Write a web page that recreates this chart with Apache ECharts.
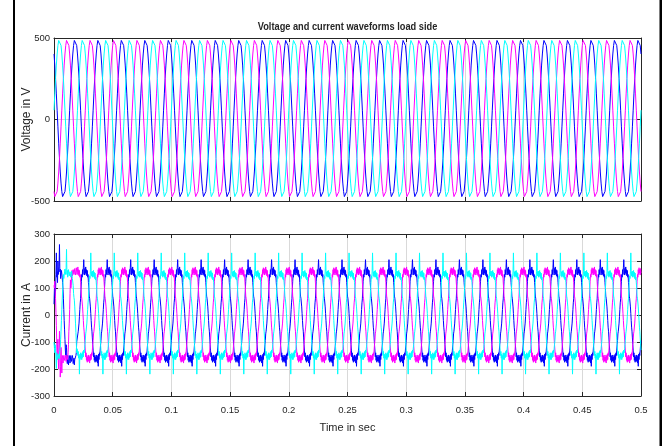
<!DOCTYPE html>
<html>
<head>
<meta charset="utf-8">
<title>Voltage and current waveforms load side</title>
<script src="https://cdn.jsdelivr.net/npm/echarts@6/dist/echarts.min.js"></script>
<style>
  html, body { margin: 0; padding: 0; background: #fff; }
  #chart { width: 667px; height: 446px; }
</style>
</head>
<body>
<div id="chart"></div>
<script>
// Supply period and number of cycles shown (50 Hz over 0.5 s)
const PERIOD = 0.02;
const CYCLES = 25;

// Axis ticks
const timeTicks = [0, 0.05, 0.1, 0.15, 0.2, 0.25, 0.3, 0.35, 0.4, 0.45, 0.5];
const voltTicks = [-500, 0, 500];
const currTicks = [-300, -200, -100, 0, 100, 200, 300];

// One period of each phase voltage (V), 30 samples per period
const voltBlue = [402, 334, 251, 157, 57, -45, -145, -239, -322, -390, -442, -473, -484, -473, -442,
                  -390, -322, -239, -145, -45, 57, 157, 251, 334, 402, 454, 485, 496, 485, 454];
const voltMagenta = [-442, -473, -484, -473, -442, -390, -322, -239, -145, -45, 57, 157, 251, 334, 402,
                     454, 485, 496, 485, 454, 402, 334, 251, 157, 57, -45, -145, -239, -322, -390];
const voltCyan = [57, 157, 251, 334, 402, 454, 485, 496, 485, 454, 402, 334, 251, 157, 57,
                  -45, -145, -239, -322, -390, -442, -473, -484, -473, -442, -390, -322, -239, -145, -45];

// Load currents (A), 60 samples per period: first period after switch-on, then steady state
const currBlueStart = [40, 95, 120, 70, 90, 150, 230, 140, 160, 120, 200, 150, 150, 180, 261,
                       160, 170, 135, 140, 165, 160, 140, 120, 95, 60, 20, -20, -55, -90, -130,
                       -150, -110, -120, -160, -180, -150, -165, -185, -190, -150, -160, -178, -175, -150, -155,
                       -172, -170, -150, -160, -180, -175, -160, -185, -165, -160, -170, -150, -140, -100, -98];
const currBlue = [-95, -70, -60, -55, -30, -5, 20, 45, 60, 95, 125, 150, 140, 168, 150,
                  175, 205, 170, 148, 172, 155, 178, 150, 168, 145, 165, 140, 150, 120, 100,
                  70, 62, 55, 30, 5, -20, -45, -60, -85, -110, -130, -155, -140, -168, -150,
                  -175, -155, -170, -148, -172, -155, -178, -150, -190, -145, -165, -140, -150, -130, -110];

const currMagentaStart = [110, 100, 125, 90, 60, 10, -40, -100, -150, -110, -90, -170, -200, -120, -60,
                          -150, -230, -190, -120, -170, -215, -160, -150, -178, -175, -150, -150, -168, -170, -148,
                          -155, -172, -175, -150, -150, -165, -140, -110, -60, -30, 20, 80, 130, 100, 110,
                          150, 165, 145, 140, 168, 175, 150, 155, 172, 170, 148, 150, 175, 172, 150];
const currMagenta = [155, 178, 150, 168, 145, 165, 140, 150, 120, 100, 70, 62, 55, 30, 5,
                     -20, -45, -60, -85, -110, -130, -155, -140, -168, -150, -175, -155, -170, -148, -172,
                     -155, -178, -150, -168, -145, -165, -140, -150, -130, -110, -95, -70, -60, -55, -30,
                     -5, 20, 45, 60, 95, 125, 150, 140, 168, 150, 175, 155, 170, 148, 172];

const currCyanStart = [-100, -120, -140, -110, -125, -160, -198, -140, -150, -165, -170, -145, -140, -162, -160,
                       -130, -120, -90, -60, -20, 20, 55, 90, 120, 150, 135, 130, 160, 170, 150,
                       160, 175, 243, 150, 165, 140, 150, 168, 170, 145, 140, 160, 165, 140, 145,
                       162, 160, 135, 140, 110, 80, 65, 55, 30, 0, -30, -65, -100, -140, -125];
const currCyan = [-130, -150, -135, -160, -145, -219, -150, -160, -140, -165, -145, -165, -140, -158, -135,
                  -155, -130, -140, -125, -110, -95, -70, -60, -55, -30, -5, 20, 45, 60, 95,
                  120, 145, 135, 160, 230, 165, 145, 160, 140, 163, 145, 165, 140, 158, 135,
                  155, 130, 140, 120, 100, 70, 62, 55, 30, 5, -20, -45, -60, -85, -110];

// Lay the sampled periods end to end along the time axis
function timeSeries(steady, start) {
  const n = steady.length;
  const pts = [];
  for (let c = 0; c < CYCLES; c++) {
    const cyc = (c === 0 && start) ? start : steady;
    for (let k = 0; k < n; k++) pts.push([(c * n + k) * PERIOD / n, cyc[k]]);
  }
  pts.push([CYCLES * PERIOD, steady[0]]);
  return pts;
}

const INK = '#262626';
const GRIDLINE = '#d9d9d9';
const SANS = '"Liberation Sans", Arial, sans-serif';
const BLUE = '#0000ff', MAGENTA = '#ff00ff', CYAN = '#00ffff';

function xAxisPair(gridIndex, labelled) {
  return [
    {
      type: 'value', gridIndex, position: 'bottom',
      min: timeTicks[0], max: timeTicks[timeTicks.length - 1], interval: 0.05,
      axisLine: { show: true, onZero: false, lineStyle: { color: INK, width: 1 } },
      axisTick: { show: true, inside: true, length: 4, lineStyle: { color: INK } },
      axisLabel: { show: labelled, color: INK, fontFamily: SANS, fontSize: 9.5, margin: 9 },
      splitLine: { show: true, lineStyle: { color: GRIDLINE, width: 1 } },
      name: labelled ? 'Time in sec' : '',
      nameLocation: 'middle', nameGap: 26, nameMoveOverlap: false,
      nameTextStyle: { color: INK, fontFamily: SANS, fontSize: 11 }
    },
    {
      type: 'value', gridIndex, position: 'top',
      min: timeTicks[0], max: timeTicks[timeTicks.length - 1], interval: 0.05,
      axisLine: { show: true, onZero: false, lineStyle: { color: INK, width: 1 } },
      axisTick: { show: true, inside: true, length: 4, lineStyle: { color: INK } },
      axisLabel: { show: false }, splitLine: { show: false }
    }
  ];
}

function yAxisPair(gridIndex, ticks, title) {
  const step = ticks[1] - ticks[0];
  return [
    {
      type: 'value', gridIndex, position: 'left',
      min: ticks[0], max: ticks[ticks.length - 1], interval: step,
      axisLine: { show: true, onZero: false, lineStyle: { color: INK, width: 1 } },
      axisTick: { show: true, inside: true, length: 4, lineStyle: { color: INK } },
      axisLabel: { color: INK, fontFamily: SANS, fontSize: 9.5, margin: 4 },
      splitLine: { show: true, lineStyle: { color: GRIDLINE, width: 1 } },
      name: title, nameLocation: 'middle', nameGap: 21, nameRotate: 90, nameMoveOverlap: false,
      nameTextStyle: { color: INK, fontFamily: SANS, fontSize: 12 }
    },
    {
      type: 'value', gridIndex, position: 'right',
      min: ticks[0], max: ticks[ticks.length - 1], interval: step,
      axisLine: { show: true, onZero: false, lineStyle: { color: INK, width: 1 } },
      axisTick: { show: true, inside: true, length: 4, lineStyle: { color: INK } },
      axisLabel: { show: false }, splitLine: { show: false }
    }
  ];
}

function wave(name, color, xi, yi, data) {
  return {
    name, type: 'line', xAxisIndex: xi, yAxisIndex: yi, data,
    showSymbol: false, symbol: 'none', silent: true, clip: true,
    lineStyle: { color, width: 1 }, emphasis: { disabled: true }
  };
}

const chart = echarts.init(document.getElementById('chart'), null, { renderer: 'canvas' });
chart.setOption({
  animation: false,
  backgroundColor: '#fff',
  grid: [
    { left: 54, top: 38, width: 587, height: 163, containLabel: false },
    { left: 54, top: 234, width: 587, height: 162, containLabel: false }
  ],
  xAxis: [...xAxisPair(0, false), ...xAxisPair(1, true)],
  yAxis: [...yAxisPair(0, voltTicks, 'Voltage in V'), ...yAxisPair(1, currTicks, 'Current in A')],
  series: [
    wave('Va', BLUE, 0, 0, timeSeries(voltBlue)),
    wave('Vb', MAGENTA, 0, 0, timeSeries(voltMagenta)),
    wave('Vc', CYAN, 0, 0, timeSeries(voltCyan)),
    wave('Ia', BLUE, 2, 2, timeSeries(currBlue, currBlueStart)),
    wave('Ib', MAGENTA, 2, 2, timeSeries(currMagenta, currMagentaStart)),
    wave('Ic', CYAN, 2, 2, timeSeries(currCyan, currCyanStart))
  ],
  graphic: [
    // Title, set slightly condensed
    {
      type: 'text', silent: true, x: 347.5, y: 27, scaleX: 0.84, originX: 0, originY: 0,
      style: {
        text: 'Voltage and current waveforms load side',
        font: 'bold 11px "Liberation Sans", Arial, sans-serif',
        fill: INK, align: 'center', verticalAlign: 'middle'
      }
    },
    // Figure frame edges
    { type: 'rect', silent: true, shape: { x: 13, y: 0, width: 2, height: 446 }, style: { fill: '#000' } },
    { type: 'rect', silent: true, shape: { x: 659.5, y: 0, width: 2.5, height: 446 }, style: { fill: '#000' } }
  ]
});
</script>
</body>
</html>
